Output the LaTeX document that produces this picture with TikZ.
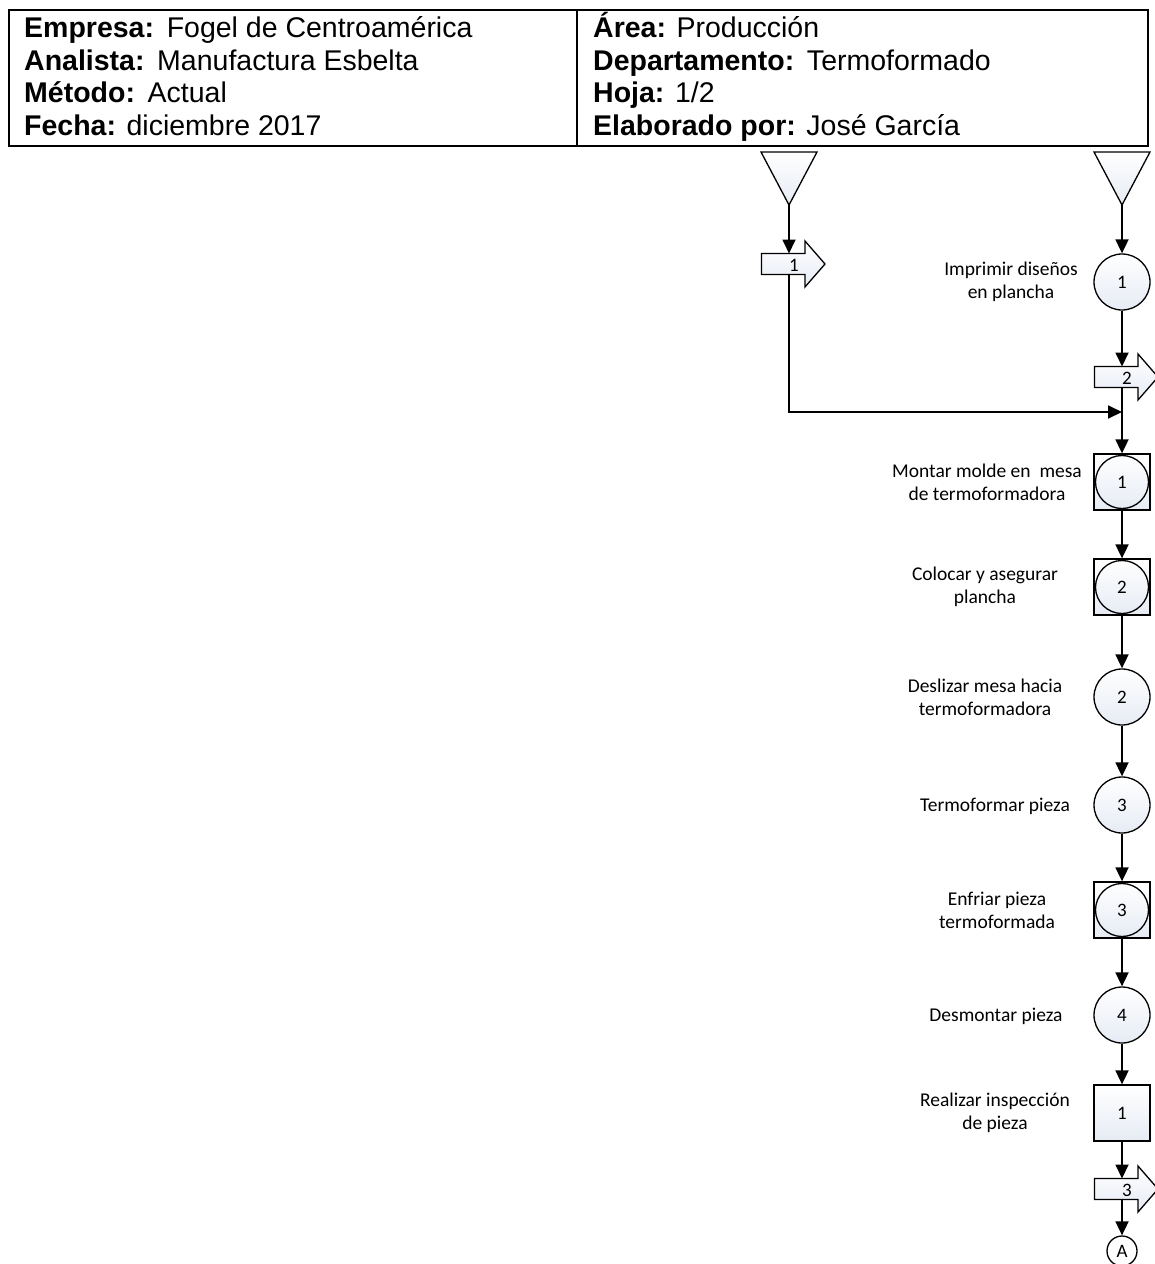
\documentclass[tikz,border=0pt]{standalone}
\usepackage{fontspec}
\usetikzlibrary{arrows.meta}
\newfontfamily\hdrfont{Liberation Sans}
\newfontfamily\lblfont{Carlito}
\definecolor{shfill}{RGB}{230,235,244}
\tikzset{
  shp/.style={draw=black, line width=1.3pt, top color=white, bottom color=shfill},
  conn/.style={draw=black, line width=1.8pt, -{Triangle[length=14pt,width=13pt]}},
  num/.style={font=\lblfont\fontsize{19}{22}\selectfont, inner sep=0pt},
  lbl/.style={font=\lblfont\fontsize{19.5}{23}\selectfont, align=center, inner sep=0pt},
  hdr/.style={font=\hdrfont\fontsize{28.5}{32}\selectfont, anchor=base west, inner sep=0pt},
  opnode/.style={shp, circle, minimum size=56pt, inner sep=0pt, num},
  boxnode/.style={shp, rectangle, minimum size=56pt, inner sep=0pt, num},
  transport/.pic={
    \path[shp] (-27.5,-10.5) -- (16,-10.5) -- (16,-23) -- (36,0) -- (16,23)
      -- (16,10.5) -- (-27.5,10.5) -- cycle;
    \coordinate (-top) at (0,-10.5);
    \coordinate (-bot) at (0,10.5);
    \node[num] (-lbl) at (5,1) {#1};
  }
}
\begin{document}
\begin{tikzpicture}[x=1pt,y=-1pt]
\useasboundingbox (0,0) rectangle (1155,1264);

% header table
\draw[line width=2.5pt] (9,10) rectangle (1148,146);
\draw[line width=2.5pt] (577,10) -- (577,146);
\node[hdr] (h1) at (24,37)  {\textbf{Empresa:}\ \,Fogel de Centroamérica};
\node[hdr] (h2) at (24,70)  {\textbf{Analista:}\ \,Manufactura Esbelta};
\node[hdr] (h3) at (24,102) {\textbf{Método:}\ \,Actual};
\node[hdr] (h4) at (24,135) {\textbf{Fecha:} diciembre 2017};
\node[hdr] (h5) at (593,37)  {\textbf{Área:} Producción};
\node[hdr] (h6) at (593,70)  {\textbf{Departamento:}\ \,Termoformado};
\node[hdr] (h7) at (593,102) {\textbf{Hoja:} 1/2};
\node[hdr] (h8) at (593,135) {\textbf{Elaborado por:} José García};

% storage triangles
\path[shp] (761,152) -- (817,152) -- (789,205) -- cycle;
\coordinate (s1) at (789,205);
\path[shp] (1094,152) -- (1150,152) -- (1122,205) -- cycle;
\coordinate (s2) at (1122,205);

% transports
\pic (t1) at (789,264) {transport=1};
\pic (t2) at (1122,377) {transport=2};
\pic (t3) at (1122,1189) {transport=3};

% operations, combined activities, inspection
\node[opnode] (o1) at (1122,282) {1};
\node[boxnode] (m1) at (1122,482) {};
\draw[line width=1.3pt] (m1.center) circle (26.5pt);
\node[num] (m1n) at (m1.center) {1};
\node[boxnode] (m2) at (1122,587) {};
\draw[line width=1.3pt] (m2.center) circle (26.5pt);
\node[num] (m2n) at (m2.center) {2};
\node[opnode] (o2) at (1122,697) {2};
\node[opnode] (o3) at (1122,805) {3};
\node[boxnode] (m3) at (1122,910) {};
\draw[line width=1.3pt] (m3.center) circle (26.5pt);
\node[num] (m3n) at (m3.center) {3};
\node[opnode] (o4) at (1122,1015) {4};
\node[boxnode] (i1) at (1122,1113) {1};
\node[draw=black, line width=1.3pt, fill=white, circle, minimum size=30pt, inner sep=0pt, num] (A) at (1122,1251) {A};

% labels
\node[lbl] (l1) at (1011,282) {Imprimir diseños\\en plancha};
\node[lbl] (l2) at (987,482) {Montar molde en\ \ mesa\\de termoformadora};
\node[lbl] (l3) at (985,587) {Colocar y asegurar\\plancha};
\node[lbl] (l4) at (985,697) {Deslizar mesa hacia\\termoformadora};
\node[lbl] (l5) at (995,806) {Termoformar pieza};
\node[lbl] (l6) at (997,910) {Enfriar pieza\\termoformada};
\node[lbl] (l7) at (996,1016) {Desmontar pieza};
\node[lbl] (l8) at (995,1113) {Realizar inspección\\de pieza};

% flow lines
\coordinate (jn) at (1122,412);
\draw[conn] (s1) -- (t1-top);
\draw[conn] (t1-bot) -- (t1-bot |- jn) -- (jn);
\draw[conn] (s2) -- (o1.north);
\draw[conn] (o1.south) -- (t2-top);
\draw[conn] (t2-bot) -- (m1.north);
\draw[conn] (m1.south) -- (m2.north);
\draw[conn] (m2.south) -- (o2.north);
\draw[conn] (o2.south) -- (o3.north);
\draw[conn] (o3.south) -- (m3.north);
\draw[conn] (m3.south) -- (o4.north);
\draw[conn] (o4.south) -- (i1.north);
\draw[conn] (i1.south) -- (t3-top);
\draw[conn] (t3-bot) -- (A.north);
\end{tikzpicture}
\end{document}
